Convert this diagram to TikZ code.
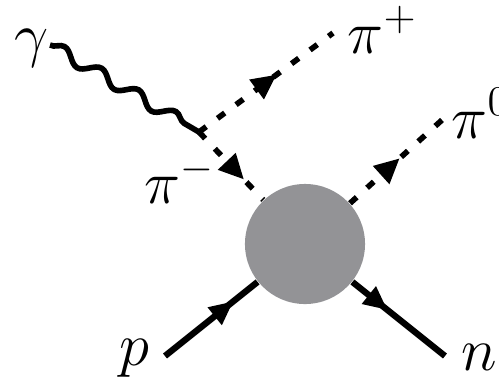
\documentclass[tikz,border=0pt]{standalone}
\usepackage{amsmath,amssymb}
\usepackage{xcolor}
\usepackage{tikz}
\usetikzlibrary{arrows.meta,decorations.pathmorphing,decorations.markings}

\definecolor{blobgray}{RGB}{147,147,150}

\begin{document}
\begin{tikzpicture}[x=0.01cm,y=-0.01cm,
  lbl/.style={inner sep=0pt,anchor=base west,font=\fontsize{16.5}{20}\selectfont},
  blob/.style={circle,fill=blobgray,minimum size=1.2cm,inner sep=0pt},
  fermion/.style={line width=1.8pt,postaction={decorate},
    decoration={markings,mark=at position #1 with {\arrow{Triangle[length=2.4mm,width=2.1mm]}}}},
  fermion/.default=0.5,
  scalar/.style={line width=1.6pt,dash pattern=on 0.09cm off 0.14cm,postaction={decorate},
    decoration={markings,mark=at position #1 with {\arrow{Triangle[length=2.5mm,width=2.3mm]}}}},
  scalar/.default=0.5,
  photon/.style={line width=1.6pt,decorate,decoration={snake,segment length=0.429cm,amplitude=0.06cm}}
]
\useasboundingbox (0,0) rectangle (499,378);
% vertices and free ends
\node[blob] (blob) at (305,244) {};
\coordinate (vtx) at (199,132);
\coordinate (gstart) at (50,45);
\coordinate (pipend) at (333,33);
\coordinate (pi0end) at (442,120);
\coordinate (pstart) at (165,356);
\coordinate (nend) at (445,356);
% labels
\node[lbl] (lgamma) at (14,55) {$\gamma$};
\node[lbl] (lpiplus) at (347,53) {$\pi^+$};
\node[lbl] (lpiminus) at (144,203) {$\pi^-$};
\node[lbl] (lpizero) at (451,138) {$\pi^0$};
\node[lbl] (lp) at (119,365) {$p$};
\node[lbl] (ln) at (461,370) {$n$};
% lines
\draw[photon] (gstart) -- (vtx);
\draw[scalar=0.58] (vtx) -- (pipend);
\draw[scalar=0.7] (vtx) -- (blob);
\draw[scalar=0.54] (blob) -- (pi0end);
\draw[fermion=0.74] (pstart) -- (blob);
\draw[fermion=0.38] (blob) -- (nend);
\end{tikzpicture}
\end{document}
